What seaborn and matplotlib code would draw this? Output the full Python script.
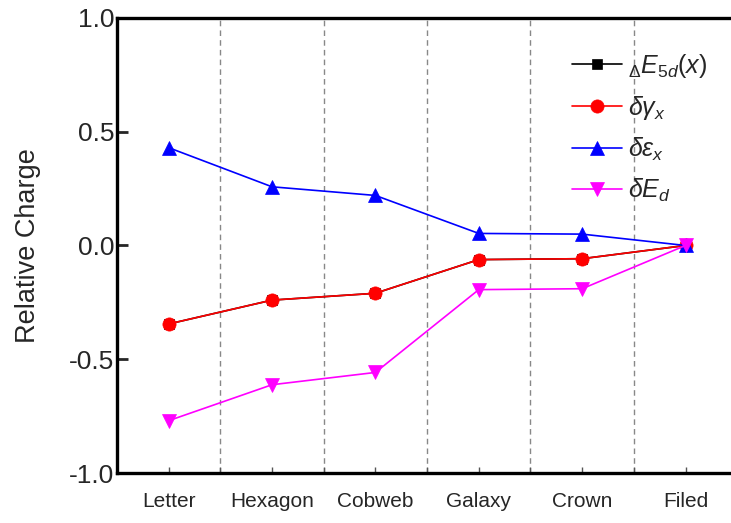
import matplotlib
matplotlib.use("Agg")
import matplotlib.pyplot as plt
from matplotlib.ticker import FixedLocator
import seaborn as sns
import pandas as pd

categories = ["Letter", "Hexagon", "Cobweb", "Galaxy", "Crown", "Filed"]
delta_e5d = [-0.345, -0.240, -0.210, -0.062, -0.058, 0.0]
delta_gamma = [-0.345, -0.240, -0.210, -0.062, -0.058, 0.0]
delta_eps = [0.430, 0.258, 0.220, 0.053, 0.050, 0.0]
delta_ed = [-0.770, -0.612, -0.558, -0.194, -0.190, 0.0]
y_ticks = [-1.0, -0.5, 0.0, 0.5, 1.0]

series_labels = [r"${}_{\Delta}E_{5d}(x)$", r"$\delta\gamma_x$",
                 r"$\delta\varepsilon_x$", r"$\delta E_d$"]
series_values = [delta_e5d, delta_gamma, delta_eps, delta_ed]
series_colors = ["#000000", "#ff0000", "#0000ff", "#ff00ff"]
series_markers = ["s", "o", "^", "v"]
series_sizes = [7.0, 9.5, 10, 10]

sns.set_style("ticks")
plt.rcParams["font.family"] = ["Liberation Sans", "DejaVu Sans"]
plt.rcParams["mathtext.fontset"] = "custom"
plt.rcParams["mathtext.rm"] = "Liberation Sans"
plt.rcParams["mathtext.it"] = "Liberation Sans:italic"
plt.rcParams["mathtext.bf"] = "Liberation Sans:bold"

rows = []
for lab, vals in zip(series_labels, series_values):
    for i, (c, v) in enumerate(zip(categories, vals)):
        rows.append({"pos": i, "category": c, "value": v, "series": lab})
df = pd.DataFrame(rows)

fig = plt.figure(figsize=(7.31, 5.23), dpi=100)
ax = fig.add_axes([0.160, 0.0956, 0.8386, 0.870])

# dashed separators between categories
for m in range(len(categories) - 1):
    ax.axvline(m + 0.5, color="#888888", lw=1.0, ls=(0, (4, 3)), zorder=0)

for lab, col, mk, ms in zip(series_labels, series_colors, series_markers, series_sizes):
    sub = df[df["series"] == lab]
    sns.lineplot(data=sub, x="pos", y="value", ax=ax, color=col, marker=mk,
                 markersize=ms, markeredgecolor=col, markeredgewidth=0.5,
                 linewidth=1.2, label=lab)

ax.set_xlim(-0.5, 5.43)
ax.set_ylim(-1.0, 1.0)
ax.xaxis.set_major_locator(FixedLocator(range(len(categories))))
ax.set_xticklabels(categories, fontsize=15)
ax.xaxis.set_minor_locator(FixedLocator([m + 0.5 for m in range(len(categories) - 1)]))
ax.set_yticks(y_ticks)
ax.set_yticklabels([f"{t:.1f}" for t in y_ticks], fontsize=19)
ax.tick_params(axis="x", which="both", direction="in", length=4, width=1, pad=14,
               color="#555555")
ax.tick_params(axis="y", direction="in", length=8, width=2, pad=2)
ax.set_xlabel("")
ax.set_ylabel("Relative Charge", fontsize=19.5, labelpad=20)

for side in ["left", "bottom", "top"]:
    ax.spines[side].set_linewidth(2.4)
    ax.spines[side].set_color("black")
ax.spines["right"].set_visible(False)

leg = ax.legend(loc="upper right", bbox_to_anchor=(1.0, 0.975), frameon=False,
                fontsize=18, handlelength=2.0, labelspacing=0.55, handletextpad=0.25)

fig.savefig("out.png", dpi=100)
